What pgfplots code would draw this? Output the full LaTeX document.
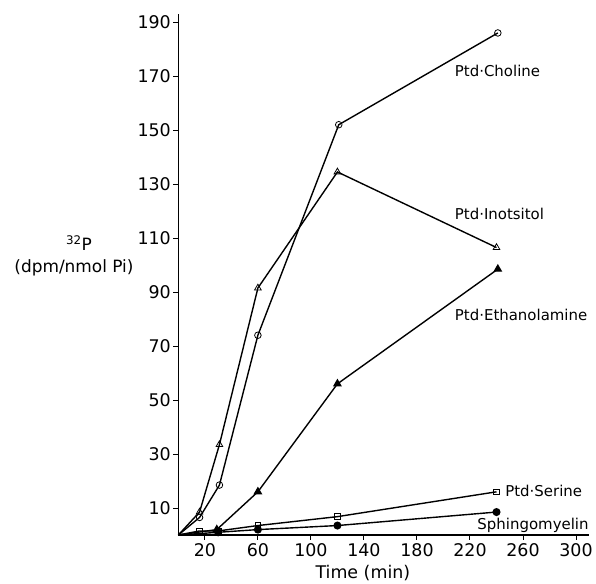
\documentclass[border=0pt]{standalone}
\usepackage{fontspec}
\setmainfont{DejaVu Sans}
\usepackage{pgfplots}
\pgfplotsset{compat=1.18}
\begin{document}
\begin{tikzpicture}
\begin{axis}[
  scale only axis, width=411bp, height=521bp,
  xmin=0, xmax=310, ymin=0, ymax=193,
  axis lines=left, axis line style={line width=1.5pt, -},
  xtick={20,60,100,140,180,220,260,300},
  ytick={10,30,50,70,90,110,130,150,170,190},
  tick align=outside, major tick length=5bp,
  tick style={line width=1pt, black},
  tick label style={font=\fontsize{17.5}{20}\selectfont},
  yticklabel style={xshift=1bp},
  /pgf/number format/assume math mode=true,
  every axis plot/.append style={line width=1.4pt, black, mark size=3.3bp},
  clip=false,
]
\useasboundingbox (axis description cs:-0.434,-0.094) rectangle (axis description cs:1.016,1.027);
% Ptd-Choline
\addplot[mark=o, mark options={fill=white, line width=0.8pt}, mark indices={2,3,4,5,6}]
  coordinates {(0,0) (16,6.5) (31,18.5) (60,74) (121,152) (241,186)};
% Ptd-Inositol
\addplot[mark=triangle, mark options={fill=white, line width=0.8pt}, mark size=3.8bp, mark indices={2,3,4,5,6}]
  coordinates {(0,0) (16,8.5) (31,33.5) (60,91.5) (120,134.5) (240,106.5)};
% Ptd-Ethanolamine
\addplot[mark=triangle*, mark size=3.8bp, mark indices={2,3,4,5}]
  coordinates {(0,0) (29,2) (60,16) (120,56) (241,98.5)};
% Ptd-Serine
\addplot[mark=square, mark options={fill=white, line width=0.8pt}, mark size=2.8bp, mark indices={2,3,4,5,6}]
  coordinates {(0,0) (16,1.5) (30,1.5) (60,3.5) (120,6.8) (240,16)};
% Sphingomyelin
\addplot[mark=*, mark indices={2,3,4,5}]
  coordinates {(0,0) (30,1) (60,2) (120,3.5) (240,8.5)};
\node[anchor=west, font=\fontsize{15}{17}\selectfont] at (axis cs:206,172) {Ptd·Choline};
\node[anchor=west, font=\fontsize{15}{17}\selectfont] at (axis cs:206,119) {Ptd·Inotsitol};
\node[anchor=west, font=\fontsize{15}{17}\selectfont] at (axis cs:206,81.5) {Ptd·Ethanolamine};
\node[anchor=west, font=\fontsize{15}{17}\selectfont] at (axis cs:244,16.3) {Ptd·Serine};
\node[anchor=west, font=\fontsize{15}{17}\selectfont] at (axis cs:223,3.7) {Sphingomyelin};
\node[font=\fontsize{17}{19}\selectfont] at (axis description cs:-0.242,0.56) {\textsuperscript{32}P};
\node[font=\fontsize{17}{19}\selectfont] at (axis description cs:-0.254,0.512) {(dpm/nmol Pi)};
\node[font=\fontsize{17.5}{20}\selectfont] at (axis description cs:0.449,-0.073) {Time (min)};
\end{axis}
\end{tikzpicture}
\end{document}
